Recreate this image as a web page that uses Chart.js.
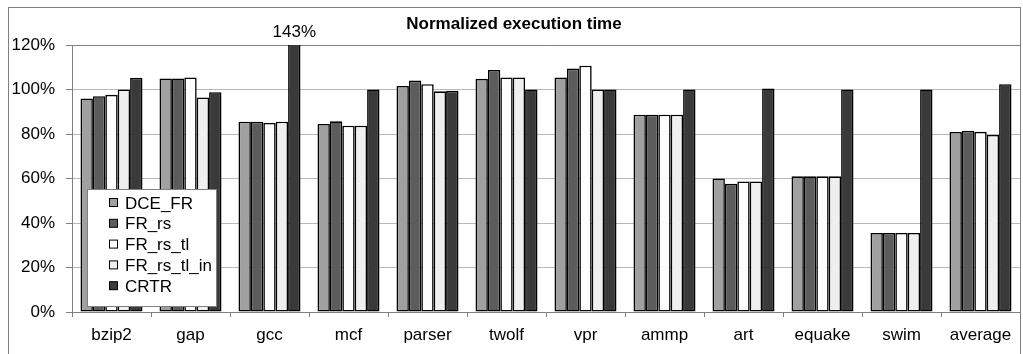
<!DOCTYPE html>
<html>
<head>
<meta charset="utf-8">
<script src="https://cdn.jsdelivr.net/npm/chart.js@4/dist/chart.umd.min.js"></script>
<style>
  html, body { margin: 0; padding: 0; background: #fff; }
  #wrap { position: relative; width: 1023px; height: 354px; }
</style>
</head>
<body>
<div id="wrap"><canvas id="execChart"></canvas></div>
<script>
const categories = ["bzip2", "gap", "gcc", "mcf", "parser", "twolf", "vpr", "ammp", "art", "equake", "swim", "average"];
const seriesNames = ["DCE_FR", "FR_rs", "FR_rs_tl", "FR_rs_tl_in", "CRTR"];

const dceFr    = [96, 105, 85.5, 84.5, 101.6, 104.8, 105.4, 88.7, 60, 61, 35.5, 80.9];
const frRs     = [97, 105, 85.5, 85.7, 104, 108.8, 109.4, 88.7, 57.6, 61, 35.5, 81.5];
const frRsTl   = [97.6, 105.4, 85, 83.7, 102.4, 105.4, 110.7, 88.7, 58.7, 61, 35.5, 81];
const frRsTlIn = [100, 96.4, 85.5, 83.7, 99.2, 105.4, 100, 88.7, 58.7, 61, 35.5, 79.6];
const crtr     = [105.2, 98.8, 143, 100, 99.4, 100, 100, 100, 100.5, 100, 100, 102.4];

const yTicks = [0, 20, 40, 60, 80, 100, 120];

const seriesValues = [dceFr, frRs, frRsTl, frRsTlIn, crtr];
const seriesColors = ["#a0a0a0", "#5c5c5c", "#fdfdfd", "#efefef", "#3a3a3a"];

Chart.defaults.font.family = '"Liberation Sans", Arial, sans-serif';
Chart.defaults.font.size = 17;
Chart.defaults.color = "#000";

// outer frame
const framePlugin = {
  id: "frame",
  beforeDraw(chart) {
    const ctx = chart.ctx;
    ctx.save();
    ctx.fillStyle = "#fff";
    ctx.fillRect(0, 0, chart.width, chart.height);
    ctx.strokeStyle = "#808080";
    ctx.lineWidth = 1;
    ctx.strokeRect(8.5, 7.5, chart.width - 11, chart.height - 7);
    ctx.restore();
  }
};

// value label for the bar that runs off the top of the axis
const overflowLabel = {
  id: "overflowLabel",
  afterDatasetsDraw(chart) {
    const yMax = chart.scales.y.max;
    const ctx = chart.ctx;
    ctx.save();
    ctx.fillStyle = "#000";
    ctx.font = '17px "Liberation Sans", Arial, sans-serif';
    ctx.textAlign = "center";
    ctx.textBaseline = "middle";
    chart.data.datasets.forEach((ds, di) => {
      const meta = chart.getDatasetMeta(di);
      ds.data.forEach((v, i) => {
        if (v > yMax) {
          ctx.fillText(v + "%", meta.data[i].x, chart.chartArea.top - 13);
        }
      });
    });
    ctx.restore();
  }
};

// boxed legend sitting over the plot, like the original
const boxLegend = {
  id: "boxLegend",
  afterDraw(chart) {
    const ctx = chart.ctx;
    const area = chart.chartArea;
    const left = area.left + 15;
    const top = area.top + 144;
    const w = 129, rowH = 20.8;
    const h = rowH * seriesNames.length + 13;
    ctx.save();
    ctx.fillStyle = "#fff";
    ctx.fillRect(left, top, w, h);
    ctx.strokeStyle = "#808080";
    ctx.lineWidth = 1;
    ctx.strokeRect(left + 0.5, top + 0.5, w, h);
    ctx.font = '17px "Liberation Sans", Arial, sans-serif';
    ctx.textBaseline = "middle";
    seriesNames.forEach((name, i) => {
      const cy = top + 14 + i * rowH;
      ctx.fillStyle = seriesColors[i];
      ctx.fillRect(left + 22.5, cy - 4.5, 8, 8);
      ctx.strokeStyle = "#000";
      ctx.strokeRect(left + 22.5, cy - 4.5, 8, 8);
      ctx.fillStyle = "#000";
      ctx.fillText(name, left + 38, cy + 1);
    });
    ctx.restore();
  }
};

new Chart(document.getElementById("execChart"), {
  type: "bar",
  data: {
    labels: categories,
    datasets: seriesNames.map((name, i) => ({
      label: name,
      data: seriesValues[i],
      backgroundColor: seriesColors[i],
      borderColor: "#000",
      borderWidth: 1.6,
      borderSkipped: false,
      barPercentage: 1,
      categoryPercentage: 0.785
    }))
  },
  options: {
    responsive: true,
    maintainAspectRatio: false,
    animation: false,
    layout: { padding: { left: 8, right: 3, top: 0, bottom: 0 } },
    plugins: {
      legend: { display: false },
      tooltip: { enabled: false },
      title: {
        display: true,
        text: "Normalized execution time",
        color: "#000",
        font: { size: 17, weight: "bold" },
        padding: { top: 14, bottom: 10.6 }
      }
    },
    scales: {
      x: {
        afterFit(scale) { scale.height = 42; },
        grid: {
          offset: true,
          drawOnChartArea: false,
          drawTicks: true,
          tickLength: 5,
          tickColor: "#808080"
        },
        border: { color: "#808080" },
        ticks: { padding: 8, color: "#000", maxRotation: 0 }
      },
      y: {
        min: 0,
        max: 120,
        afterFit(scale) { scale.width = 64; },
        afterBuildTicks(scale) { scale.ticks = yTicks.map(v => ({ value: v })); },
        grid: {
          color: ctx => (ctx.tick && ctx.tick.value === 120 ? "#808080" : "#b8b8b8"),
          tickColor: "#808080",
          tickLength: 6
        },
        border: { color: "#808080" },
        ticks: {
          padding: 11,
          color: "#000",
          callback: v => v + "%"
        }
      }
    }
  },
  plugins: [framePlugin, overflowLabel, boxLegend]
});
</script>
</body>
</html>
